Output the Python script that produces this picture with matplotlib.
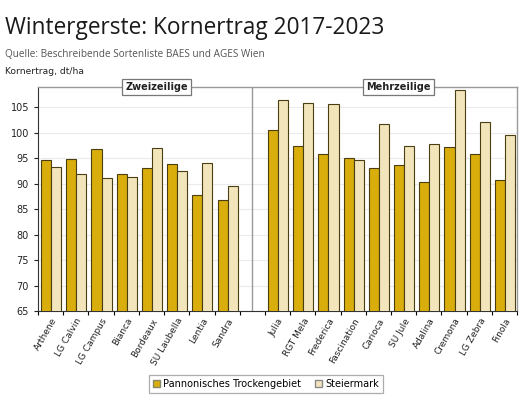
import numpy as np
import matplotlib
matplotlib.use("Agg")
import matplotlib.pyplot as plt
from matplotlib.patches import Patch

# varieties (two-row and six-row barley)
zweizeilig = ["Arthene", "LG Calvin", "LG Campus", "Bianca", "Bordeaux",
              "SU Laubella", "Lentia", "Sandra"]
mehrzeilig = ["Julia", "RGT Mela", "Frederica", "Fascination", "Carioca",
              "SU Jule", "Adalina", "Cremona", "LG Zebra", "Finola"]

# grain yield dt/ha
pannon_zw = [94.6, 94.9, 96.9, 92.0, 93.0, 93.8, 87.7, 86.8]
steier_zw = [93.2, 91.9, 91.1, 91.3, 97.0, 92.5, 94.1, 89.5]
pannon_mz = [100.6, 97.4, 95.9, 95.1, 93.1, 93.6, 90.4, 97.2, 95.9, 90.8]
steier_mz = [106.5, 105.8, 105.7, 94.7, 101.8, 97.5, 97.9, 108.5, 102.1, 99.6]

c_dark = "#D8AD0C"
c_light = "#F3E5BB"
c_edge = "#4a3f10"

labels = zweizeilig + mehrzeilig
pannon = pannon_zw + pannon_mz
steier = steier_zw + steier_mz
# one empty slot between the two groups
x = np.r_[np.arange(len(zweizeilig)), np.arange(len(mehrzeilig)) + len(zweizeilig) + 1]
gap = len(zweizeilig)
n_slots = len(labels) + 1

fig = plt.figure(figsize=(5.32, 4.0), dpi=100)
ax = fig.add_axes([0.0714, 0.2225, 0.9006, 0.56])

w = 0.4
ax.bar(x - w / 2 + 0.02, pannon, w, color=c_dark, edgecolor=c_edge, linewidth=0.8, zorder=3)
ax.bar(x + w / 2 + 0.02, steier, w, color=c_light, edgecolor=c_edge, linewidth=0.8, zorder=3)

ax.set_ylim(65, 109)
ax.set_xlim(-0.5, n_slots - 0.5)
ax.set_yticks(np.arange(65, 106, 5))
ax.grid(axis="y", color="#ebebeb", linewidth=0.8, zorder=0)

ax.set_xticks(x)
ax.set_xticklabels(labels, rotation=60, ha="right", rotation_mode="anchor",
                   fontsize=6.5, color="#222222")
ax.set_xticks(np.arange(-0.5, n_slots, 1.0), minor=True)
ax.tick_params(axis="x", which="major", length=0, pad=4)
ax.tick_params(axis="x", which="minor", length=3, width=0.8, direction="out")
ax.tick_params(axis="y", length=3, width=0.8, labelsize=7, colors="#222222")

for s in ["top", "right"]:
    ax.spines[s].set_color("#999999")
    ax.spines[s].set_linewidth(1.0)
ax.spines["left"].set_color("#333333")
ax.spines["bottom"].set_color("#333333")

# divider between the groups
ax.axvline(gap, color="#999999", linewidth=1.0, zorder=4)

box = dict(boxstyle="square,pad=0.3", facecolor="white", edgecolor="#777777", linewidth=0.9)
ax.text(4.2, 109, "Zweizeilige", ha="center", va="center", fontsize=7,
        fontweight="bold", color="#222222", bbox=box, zorder=5, clip_on=False)
ax.text(13.8, 109, "Mehrzeilige", ha="center", va="center", fontsize=7,
        fontweight="bold", color="#222222", bbox=box, zorder=5, clip_on=False)

fig.text(0.009, 0.915, "Wintergerste: Kornertrag 2017-2023", fontsize=16.3,
         family="Open Sans", color="#1a1a1a", va="baseline")
fig.text(0.009, 0.857, "Quelle: Beschreibende Sortenliste BAES und AGES Wien",
         fontsize=7.2, family="Open Sans", color="#555555", va="baseline")
fig.text(0.009, 0.815, "Kornertrag, dt/ha", fontsize=6.6, color="#222222", va="baseline")

handles = [Patch(facecolor=c_dark, edgecolor="#888866", label="Pannonisches Trockengebiet"),
           Patch(facecolor=c_light, edgecolor="#888888", label="Steiermark")]
leg = fig.legend(handles=handles, loc="center", bbox_to_anchor=(0.5, 0.04), ncol=2,
                 fontsize=7, frameon=True, fancybox=False, handlelength=0.7,
                 handleheight=0.7, handletextpad=0.3, columnspacing=1.5,
                 borderpad=0.4)
leg.get_frame().set_edgecolor("#999999")
leg.get_frame().set_linewidth(0.9)

fig.savefig("out.png", dpi=100)
